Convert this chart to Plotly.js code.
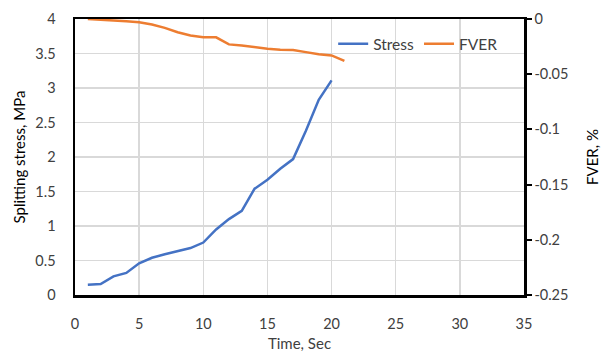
<!DOCTYPE html>
<html>
<head>
<meta charset="utf-8">
<script src="https://cdn.plot.ly/plotly-3.0.1.min.js"></script>
<style>html,body{margin:0;padding:0;background:#fff;}#chart{width:601px;height:356px;}</style>
</head>
<body>
<div id="chart"></div>
<script>
const stressTime = [1,2,3,4,5,6,7,8,9,10,11,12,13,14,15,16,17,18,19,20];
const stressValues = [0.15,0.16,0.27,0.32,0.46,0.54,0.59,0.63,0.68,0.76,0.95,1.10,1.22,1.54,1.67,1.83,1.97,2.38,2.83,3.11];
const fverTime = [1,2,3,4,5,6,7,8,9,10,11,12,13,14,15,16,17,18,19,20,21];
const fverValues = [0,-0.0005,-0.001,-0.002,-0.003,-0.005,-0.008,-0.012,-0.015,-0.0166,-0.0166,-0.023,-0.024,-0.0257,-0.027,-0.0278,-0.028,-0.030,-0.032,-0.033,-0.038];
const xTicks = [0,5,10,15,20,25,30,35];
const yTicks = [0,0.5,1,1.5,2,2.5,3,3.5,4];
const y2Ticks = [0,-0.05,-0.1,-0.15,-0.2,-0.25];

const font = {family: 'Lato, "Open Sans", sans-serif', size: 14.5, color: '#404040'};

const data = [
  {x: stressTime, y: stressValues, name: 'Stress', type: 'scatter', mode: 'lines',
   line: {color: '#4472C4', width: 2.5}},
  {x: fverTime, y: fverValues, name: 'FVER', type: 'scatter', mode: 'lines', yaxis: 'y2',
   line: {color: '#ED7D31', width: 2.5}}
];

const layout = {
  width: 601, height: 356,
  margin: {l: 75, r: 77, t: 19, b: 61},
  paper_bgcolor: '#fff', plot_bgcolor: '#fff',
  font: font,
  showlegend: true,
  legend: {orientation: 'h', x: 0.575, y: 0.97, xanchor: 'left', yanchor: 'top',
           bgcolor: 'rgba(0,0,0,0)', font: {family: font.family, size: 15.5, color: '#404040'},
           itemwidth: 30, tracegroupgap: 0},
  xaxis: {range: [0, 35], tickvals: xTicks, ticktext: xTicks.map(String),
          showgrid: true, gridcolor: '#d9d9d9', gridwidth: 1.5, zeroline: false,
          showline: true, linecolor: '#000', linewidth: 2.5, mirror: true,
          ticks: '', ticklabelstandoff: 14,
          title: {text: 'Time, Sec', font: {family: font.family, size: 15, color: '#404040'}, standoff: 8}},
  yaxis: {range: [0, 4], tickvals: yTicks, ticktext: yTicks.map(String),
          showgrid: true, gridcolor: '#d9d9d9', gridwidth: 1.5, zeroline: false,
          showline: true, linecolor: '#000', linewidth: 2.5,
          ticks: '', ticklabelstandoff: 14,
          title: {text: 'Splitting stress, MPa', font: {family: font.family, size: 15, color: '#000'}, standoff: 6}},
  yaxis2: {range: [-0.25, 0], overlaying: 'y', side: 'right', tickvals: y2Ticks,
           ticktext: y2Ticks.map(String),
           showgrid: false, zeroline: false,
           showline: true, linecolor: '#000', linewidth: 2.5,
           ticks: 'outside', ticklen: 5, tickwidth: 2, tickcolor: '#000',
           title: {text: 'FVER, %', font: {family: font.family, size: 15, color: '#000'}, standoff: 20}}
};

Plotly.newPlot('chart', data, layout, {displayModeBar: false, staticPlot: true});
</script>
</body>
</html>
